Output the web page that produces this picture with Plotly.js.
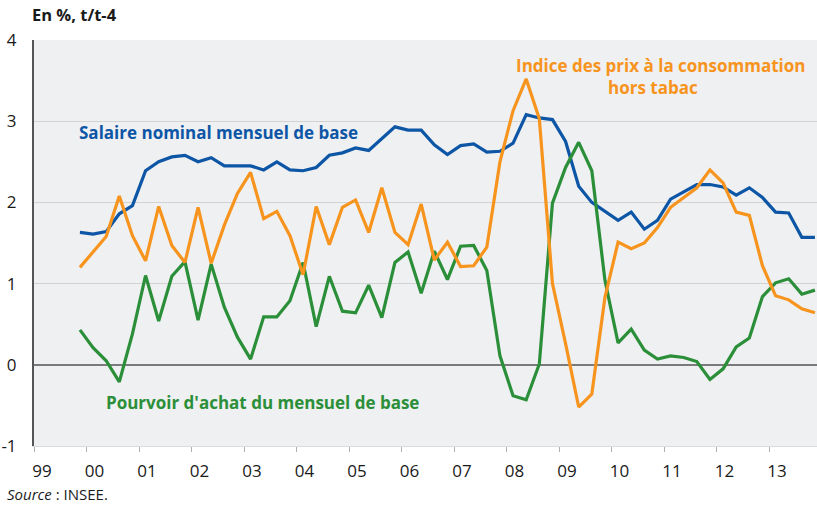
<!DOCTYPE html>
<html><head><meta charset="utf-8">
<script src="https://cdn.plot.ly/plotly-3.0.1.min.js"></script>
<style>html,body{margin:0;padding:0;background:#fff}</style>
</head><body><div id="chart" style="width:817px;height:507px"></div>
<script>
const quarters = [
 "1999T4",
 "2000T1","2000T2","2000T3","2000T4",
 "2001T1","2001T2","2001T3","2001T4",
 "2002T1","2002T2","2002T3","2002T4",
 "2003T1","2003T2","2003T3","2003T4",
 "2004T1","2004T2","2004T3","2004T4",
 "2005T1","2005T2","2005T3","2005T4",
 "2006T1","2006T2","2006T3","2006T4",
 "2007T1","2007T2","2007T3","2007T4",
 "2008T1","2008T2","2008T3","2008T4",
 "2009T1","2009T2","2009T3","2009T4",
 "2010T1","2010T2","2010T3","2010T4",
 "2011T1","2011T2","2011T3","2011T4",
 "2012T1","2012T2","2012T3","2012T4",
 "2013T1","2013T2","2013T3","2013T4"
];
const salaire = [1.63,
 1.61,1.64,1.86,1.96, 2.39,2.50,2.56,2.58, 2.50,2.55,2.45,2.45, 2.45,2.40,2.50,2.40,
 2.39,2.43,2.58,2.61, 2.67,2.64,2.78,2.93, 2.89,2.89,2.71,2.59, 2.70,2.72,2.62,2.63,
 2.73,3.08,3.04,3.02, 2.75,2.20,2.00,1.89, 1.78,1.88,1.67,1.78, 2.04,2.13,2.22,2.22,
 2.19,2.09,2.18,2.06, 1.88,1.87,1.57,1.57];
const prix = [1.20,
 1.39,1.58,2.08,1.59, 1.28,1.95,1.47,1.26, 1.94,1.25,1.72,2.11, 2.37,1.80,1.89,1.59,
 1.11,1.95,1.48,1.94, 2.03,1.63,2.18,1.63, 1.48,1.98,1.29,1.51, 1.21,1.22,1.45,2.50,
 3.13,3.52,3.03,1.00, 0.26,-0.52,-0.36,0.83, 1.51,1.43,1.50,1.69, 1.94,2.06,2.18,2.40,
 2.24,1.88,1.84,1.22, 0.85,0.80,0.69,0.64];
const pouvoir = [0.43,
 0.21,0.05,-0.21,0.38, 1.10,0.54,1.09,1.27, 0.55,1.24,0.71,0.34, 0.07,0.59,0.59,0.79,
 1.26,0.47,1.09,0.66, 0.64,0.98,0.58,1.26, 1.39,0.88,1.40,1.05, 1.46,1.47,1.16,0.11,
 -0.38,-0.43,0.01,1.99, 2.43,2.74,2.39,1.04, 0.27,0.44,0.18,0.07, 0.11,0.09,0.04,-0.18,
 -0.05,0.22,0.33,0.84, 1.01,1.06,0.87,0.92];
const yearTicks = [1999,2000,2001,2002,2003,2004,2005,2006,2007,2008,2009,2010,2011,2012,2013];
const yearLabels = ["99","00","01","02","03","04","05","06","07","08","09","10","11","12","13"];
const yTicks = [-1,0,1,2,3,4];
const yLabels = ["-1","0","1","2","3","4"];

const xs = quarters.map(q => { const y = +q.slice(0,4), t = +q.slice(5); return y + (t - 0.5) / 4; });

const FONT = "Open Sans, Noto Sans, sans-serif";
const BLUE = "#0d56a6", ORANGE = "#f7941d", GREEN = "#2b8f39";

const traces = [
 {x: xs, y: salaire, name: "Salaire nominal mensuel de base", mode: "lines", line: {color: BLUE, width: 3.2}},
 {x: xs, y: pouvoir, name: "Pourvoir d'achat du mensuel de base", mode: "lines", line: {color: GREEN, width: 3.2}},
 {x: xs, y: prix, name: "Indice des prix à la consommation hors tabac", mode: "lines", line: {color: ORANGE, width: 3.2}}
];

const layout = {
 width: 817, height: 507,
 margin: {l: 34, r: 0, t: 40, b: 61, pad: 0},
 paper_bgcolor: "#ffffff",
 plot_bgcolor: "#eff0f2",
 showlegend: false,
 font: {family: FONT, size: 17, color: "#1a1a1a"},
 xaxis: {
  range: [1999, 2013.914],
  tickmode: "array", tickvals: yearTicks, ticktext: yearLabels,
  ticks: "outside", ticklen: 5, tickwidth: 1, tickcolor: "#b0b0b0",
  ticklabelshift: 8, ticklabelstandoff: 5,
  showgrid: false, zeroline: false,
  showline: true, linecolor: "#dcdcdc", linewidth: 1,
  tickfont: {family: FONT, size: 17, color: "#1a1a1a"},
  fixedrange: true
 },
 yaxis: {
  range: [-1, 4],
  tickmode: "array", tickvals: yTicks, ticktext: yLabels,
  ticks: "", ticklabelstandoff: 12,
  showgrid: true, gridcolor: "#d2d2d2", gridwidth: 1,
  zeroline: true, zerolinecolor: "#7a7a7a", zerolinewidth: 2,
  showline: true, linecolor: "#555555", linewidth: 2,
  tickfont: {family: FONT, size: 17, color: "#1a1a1a"},
  fixedrange: true
 },
 annotations: [
  {xref: "paper", yref: "paper", x: -0.005, y: 1.064, xanchor: "left", yanchor: "middle", showarrow: false,
   text: "<b>En %, t/t-4</b>", font: {family: FONT, size: 16.5, color: "#1a1a1a"}},
  {xref: "paper", yref: "paper", x: 0.2356, y: 0.771, xanchor: "center", yanchor: "middle", showarrow: false,
   text: "<b>Salaire nominal mensuel de base</b>", font: {family: FONT, size: 17, color: BLUE}},
  {xref: "paper", yref: "paper", x: 0.800, y: 0.936, xanchor: "center", yanchor: "middle", showarrow: false,
   text: "<b>Indice des prix à la consommation</b>", font: {family: FONT, size: 17, color: ORANGE}},
  {xref: "paper", yref: "paper", x: 0.790, y: 0.882, xanchor: "center", yanchor: "middle", showarrow: false,
   text: "<b>hors tabac</b>", font: {family: FONT, size: 17, color: ORANGE}},
  {xref: "paper", yref: "paper", x: 0.2918, y: 0.108, xanchor: "center", yanchor: "middle", showarrow: false,
   text: "<b>Pourvoir d'achat du mensuel de base</b>", font: {family: FONT, size: 17, color: GREEN}},
  {xref: "paper", yref: "paper", x: -0.037, y: -0.118, xanchor: "left", yanchor: "middle", showarrow: false,
   text: "<i>Source</i> : INSEE.", font: {family: FONT, size: 15, color: "#1a1a1a"}}
 ]
};

Plotly.newPlot("chart", traces, layout, {displayModeBar: false, staticPlot: true});
</script></body></html>
